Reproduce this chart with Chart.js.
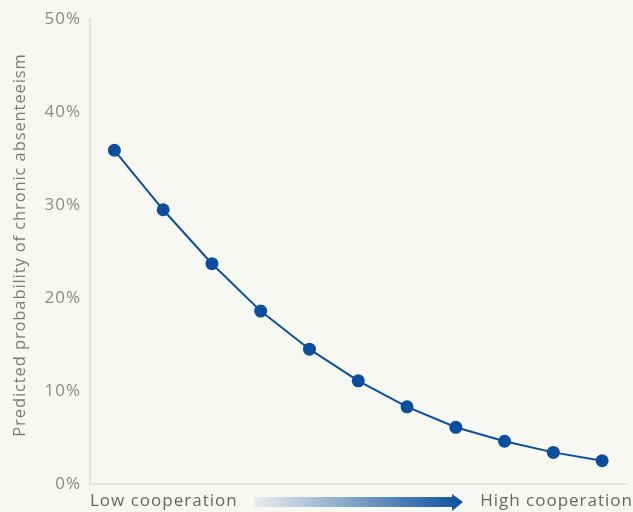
<!DOCTYPE html>
<html>
<head>
<meta charset="utf-8">
<script src="https://cdn.jsdelivr.net/npm/chart.js@4.4.1/dist/chart.umd.min.js"></script>
<style>
  html, body { margin: 0; padding: 0; background: #f8f8f3; }
  #wrap { width: 633px; height: 512px; }
</style>
</head>
<body>
<div id="wrap"><canvas id="chartAbsent"></canvas></div>
<script>
// cooperation levels, low to high
const niveles = ["1", "2", "3", "4", "5", "6", "7", "8", "9", "10", "11"];
// predicted probability (%)
const probabilidad = [35.9, 29.5, 23.7, 18.6, 14.5, 11.1, 8.3, 6.1, 4.6, 3.4, 2.5];
const ticksY = [0, 10, 20, 30, 40, 50];

const fuente = "'Open Sans', 'Noto Sans', sans-serif";
const azul = "#0b4f9c";

// texto algo mas espaciado en todo el grafico
const espaciado = {
  id: "espaciado",
  beforeDraw(chart) { chart.ctx.letterSpacing = "1px"; }
};

// etiquetas del eje x y flecha con degradado
const ejeX = {
  id: "ejeX",
  afterDraw(chart) {
    const ctx = chart.ctx;
    const area = chart.chartArea;
    ctx.save();
    ctx.letterSpacing = "1px";
    ctx.font = "17px " + fuente;
    ctx.fillStyle = "#666666";
    ctx.textBaseline = "alphabetic";
    ctx.textAlign = "left";
    ctx.fillText("Low cooperation", area.left, 506);
    ctx.textAlign = "right";
    ctx.fillText("High cooperation", chart.width, 506);

    const grad = ctx.createLinearGradient(254, 0, 463, 0);
    grad.addColorStop(0, "rgba(11,79,156,0.06)");
    grad.addColorStop(1, "rgba(11,79,156,1)");
    ctx.fillStyle = grad;
    ctx.beginPath();
    ctx.moveTo(254, 497);
    ctx.lineTo(452, 497);
    ctx.lineTo(452, 494);
    ctx.lineTo(463, 502);
    ctx.lineTo(452, 511);
    ctx.lineTo(452, 507);
    ctx.lineTo(254, 507);
    ctx.closePath();
    ctx.fill();

    // titulo del eje y
    ctx.translate(25, 245);
    ctx.rotate(-Math.PI / 2);
    ctx.textAlign = "center";
    ctx.fillStyle = "#7a7a7a";
    ctx.letterSpacing = "0.9px";
    ctx.font = "16.5px " + fuente;
    ctx.fillText("Predicted probability of chronic absenteeism", 0, 0);
    ctx.restore();
  }
};

new Chart(document.getElementById("chartAbsent"), {
  type: "line",
  data: {
    labels: niveles,
    datasets: [{
      data: probabilidad,
      borderColor: azul,
      backgroundColor: azul,
      borderWidth: 2,
      pointRadius: 6.5,
      pointHoverRadius: 6.5,
      pointBorderWidth: 0,
      tension: 0
    }]
  },
  options: {
    responsive: true,
    maintainAspectRatio: false,
    animation: false,
    layout: { padding: { top: 19, right: 0, bottom: 0, left: 0 } },
    plugins: {
      legend: { display: false },
      tooltip: { enabled: false }
    },
    scales: {
      x: {
        type: "category",
        offset: true,
        grid: { display: false, drawTicks: false },
        border: { color: "#e2e2de", width: 2 },
        ticks: { display: false },
        afterFit(scale) { scale.height = 28; }
      },
      y: {
        min: 0,
        max: 50,
        afterBuildTicks(scale) { scale.ticks = ticksY.map(v => ({ value: v })); },
        grid: { display: false, drawTicks: false },
        border: { color: "#e2e2de", width: 2 },
        ticks: {
          padding: 9,
          color: "#8a8a8a",
          font: { family: fuente, size: 17 },
          callback: v => v + "%"
        },
        afterFit(scale) { scale.width = 90; }
      }
    }
  },
  plugins: [espaciado, ejeX]
});
</script>
</body>
</html>
